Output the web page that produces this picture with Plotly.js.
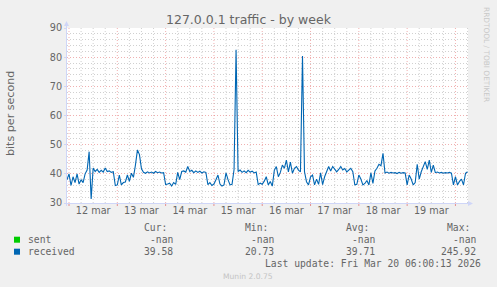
<!DOCTYPE html>
<html><head><meta charset="utf-8">
<script src="https://cdn.plot.ly/plotly-3.0.1.min.js"></script>
<style>html,body{margin:0;padding:0;background:#F0F0F0;}#chart{width:497px;height:287px;}</style>
</head><body><div id="chart"></div>
<script>
// hourly samples, starting 2026-03-11 23:00
const startTime = Date.UTC(2026, 2, 11, 23, 0, 0);
const mar11 = [38];
const mar12 = [40,36,39,37,40,36.5,38,37,40,41.3,47.6,31.4,42,40.8,41.5,40.5,41.2,40.6,42,40.8,41,40.5,40.7,36];
const mar13 = [36.2,39.6,36.2,37,37.2,39.6,37.4,40.2,38.8,43,48.2,46.6,41.7,40.5,40.2,40.7,40.3,40.6,40.2,40.8,40.4,40.6,40.3,40.4];
const mar14 = [36.3,36.5,36.8,35.8,37,36.4,40.5,38,40.8,41,40.6,42.5,40.8,41.2,40.4,41,40.5,40.9,40.3,40.7,40.5,36.3,37,36];
const mar15 = [36.5,38,39.6,36.5,35.8,36.2,40.3,38,36.2,36.4,41.5,82.5,40.8,41.3,40.5,41,40.4,41.2,40.6,40.9,40.3,40.6,36.3,36.8];
const mar16 = [36.4,37.5,39,36.2,37.4,35.8,41.2,42.5,39,40.5,43,41.9,44.7,40.7,44,40.2,41.9,42.5,41.3,40.7,80.4,40.7,37.3,36.2];
const mar17 = [39,39.6,36.2,38.2,36.4,40.3,36.3,39,41,42.5,41,42.5,41.6,40.7,41.5,42.5,41.3,41.8,40.7,41.2,41.9,40.7,36.2,36.4];
const mar18 = [39.6,38.2,36.2,36.7,37.7,36.2,40.3,36.7,41,41.9,43.3,42.8,47,40.3,40.6,40.2,40.5,40.3,40.4,40.1,40.5,40.2,40.4,40.3];
const mar19 = [36.2,39.6,38.2,36.2,37,43.3,38.2,40.7,42.5,44.2,41.5,44.7,40.5,43,40.4,40.6,40.3,40.5,40.2,40.4,40.3,40.5,40.2,36.2];
const mar20 = [39,36.2,37.4,38.2,36.2,40.2,40.7];

const dayTicks = ['2026-03-12 12:00','2026-03-13 12:00','2026-03-14 12:00','2026-03-15 12:00','2026-03-16 12:00','2026-03-17 12:00','2026-03-18 12:00','2026-03-19 12:00'];
const dayLabels = ['12 mar','13 mar','14 mar','15 mar','16 mar','17 mar','18 mar','19 mar'];

const legendNames = ['sent','received'];
const legendColors = ['#00CC00','#0066B3'];
const curVals = ['-nan','39.58'];
const minVals = ['-nan','20.73'];
const avgVals = ['-nan','39.71'];
const maxVals = ['-nan','245.92'];
const statHeaders = ['Cur:','Min:','Avg:','Max:'];

const receivedValues = [].concat(mar11, mar12, mar13, mar14, mar15, mar16, mar17, mar18, mar19, mar20);
const fmt = ms => new Date(ms).toISOString().slice(0,19).replace('T',' ');
const times = receivedValues.map((_, i) => fmt(startTime + i * 3600000));

const X = p => (p - 67) / 401;
const Y = p => (203 - p) / 175;

const majorGrid = 'rgba(222,79,79,0.45)';
const minorGrid = 'rgba(143,143,143,0.42)';
const shapes = [];
const gridStart = Date.UTC(2026, 2, 12, 0, 0, 0);
for (let k = 0; k <= 8 * 4 + 1; k++) {
  const t = gridStart + k * 6 * 3600000;
  const major = (k % 4 === 0);
  shapes.push({type:'line', xref:'x', yref:'paper', x0:fmt(t), x1:fmt(t), y0:0, y1:1, layer:'between',
    line:{color: major ? majorGrid : minorGrid, width:1, dash:'1px,2px'}});
  if (major) shapes.push({type:'line', xref:'x', yref:'paper', x0:fmt(t), x1:fmt(t), y0:Y(203), y1:Y(206),
    line:{color:'rgba(222,79,79,0.6)', width:1}});
}
const axisCol = '#CFD6F8';
shapes.push({type:'line', xref:'paper', yref:'paper', x0:X(66.5), x1:X(66.5), y0:Y(206), y1:Y(25), line:{color:axisCol, width:1}});
shapes.push({type:'path', xref:'paper', yref:'paper', path:`M ${X(64)},${Y(26)} L ${X(69)},${Y(26)} L ${X(66.5)},${Y(21)} Z`, fillcolor:axisCol, line:{width:0}});
shapes.push({type:'line', xref:'paper', yref:'paper', x0:X(64), x1:X(470), y0:Y(203.5), y1:Y(203.5), line:{color:axisCol, width:1}});
shapes.push({type:'path', xref:'paper', yref:'paper', path:`M ${X(468)},${Y(201)} L ${X(468)},${Y(206)} L ${X(473)},${Y(203.5)} Z`, fillcolor:axisCol, line:{width:0}});

const mono = {family:'DejaVu Sans Mono', size:9.7, color:'#666666'};
const sans = {family:'DejaVu Sans', size:9.7, color:'#666666'};
const ann = [];
ann.push({text:'127.0.0.1 traffic - by week', x:X(248.5), y:Y(19), xref:'paper', yref:'paper', showarrow:false, xanchor:'center', yanchor:'middle', font:{family:'DejaVu Sans', size:12.5, color:'#666666'}});
ann.push({text:'bits per second', x:X(10), y:Y(114), xref:'paper', yref:'paper', showarrow:false, textangle:-90, xanchor:'center', yanchor:'middle', font:{family:'DejaVu Sans', size:11.1, color:'#666666'}});
ann.push({text:'RRDTOOL / TOBI OETIKER', x:X(487), y:Y(54), xref:'paper', yref:'paper', showarrow:false, textangle:90, xanchor:'center', yanchor:'middle', font:{family:'DejaVu Sans', size:7.4, color:'#C8C8C8'}});
const headerRight = [169, 270, 371, 472];
const valRight = [175, 276, 377, 478];
statHeaders.forEach((h, i) => ann.push({text:h, x:X(headerRight[i]), y:Y(227.7), xref:'paper', yref:'paper', showarrow:false, xanchor:'right', yanchor:'middle', font:mono}));
const rowsY = [239.7, 251.7];
legendNames.forEach((n, r) => {
  ann.push({text:n, x:X(25.5), y:Y(rowsY[r]), xref:'paper', yref:'paper', showarrow:false, xanchor:'left', yanchor:'middle', font:mono});
  [curVals, minVals, avgVals, maxVals].forEach((arr, i) => ann.push({text:arr[r], x:X(valRight[i]), y:Y(rowsY[r]), xref:'paper', yref:'paper', showarrow:false, xanchor:'right', yanchor:'middle', font:mono}));
  shapes.push({type:'rect', xref:'paper', yref:'paper', x0:X(14), x1:X(20), y0:Y(rowsY[r]+3), y1:Y(rowsY[r]-3), fillcolor:legendColors[r], line:{width:0}});
});
ann.push({text:'Last update: Fri Mar 20 06:00:13 2026', x:X(483), y:Y(263.3), xref:'paper', yref:'paper', showarrow:false, xanchor:'right', yanchor:'middle', font:mono});
ann.push({text:'Munin 2.0.75', x:X(248), y:Y(276), xref:'paper', yref:'paper', showarrow:false, xanchor:'center', yanchor:'middle', font:{family:'DejaVu Sans', size:7.6, color:'#C4C4C4'}});

const data = [{
  x: times, y: receivedValues, type:'scatter', mode:'lines', name:'received',
  line:{color:'#0066B3', width:1.1}, hoverinfo:'skip'
}];

const layout = {
  width:497, height:287,
  margin:{l:67, r:29, t:28, b:84, pad:0},
  paper_bgcolor:'#F0F0F0', plot_bgcolor:'#FFFFFF',
  showlegend:false,
  xaxis:{type:'date', range:['2026-03-11 23:00','2026-03-20 06:14'], showgrid:false, zeroline:false, showline:false,
    tickmode:'array', tickvals:dayTicks, ticktext:dayLabels, ticks:'', tickfont:sans, fixedrange:true},
  yaxis:{range:[30,90], dtick:10, tick0:30, showgrid:true, gridcolor:majorGrid, griddash:'1px,2px', gridwidth:1,
    zeroline:false, showline:false, ticks:'outside', ticklen:2, tickcolor:axisCol, tickfont:sans,
    minor:{dtick:2, showgrid:true, gridcolor:minorGrid, griddash:'1px,2px', gridwidth:1}, fixedrange:true},
  shapes: shapes,
  annotations: ann
};
Plotly.newPlot('chart', data, layout, {staticPlot:true, displayModeBar:false});
</script></body></html>
